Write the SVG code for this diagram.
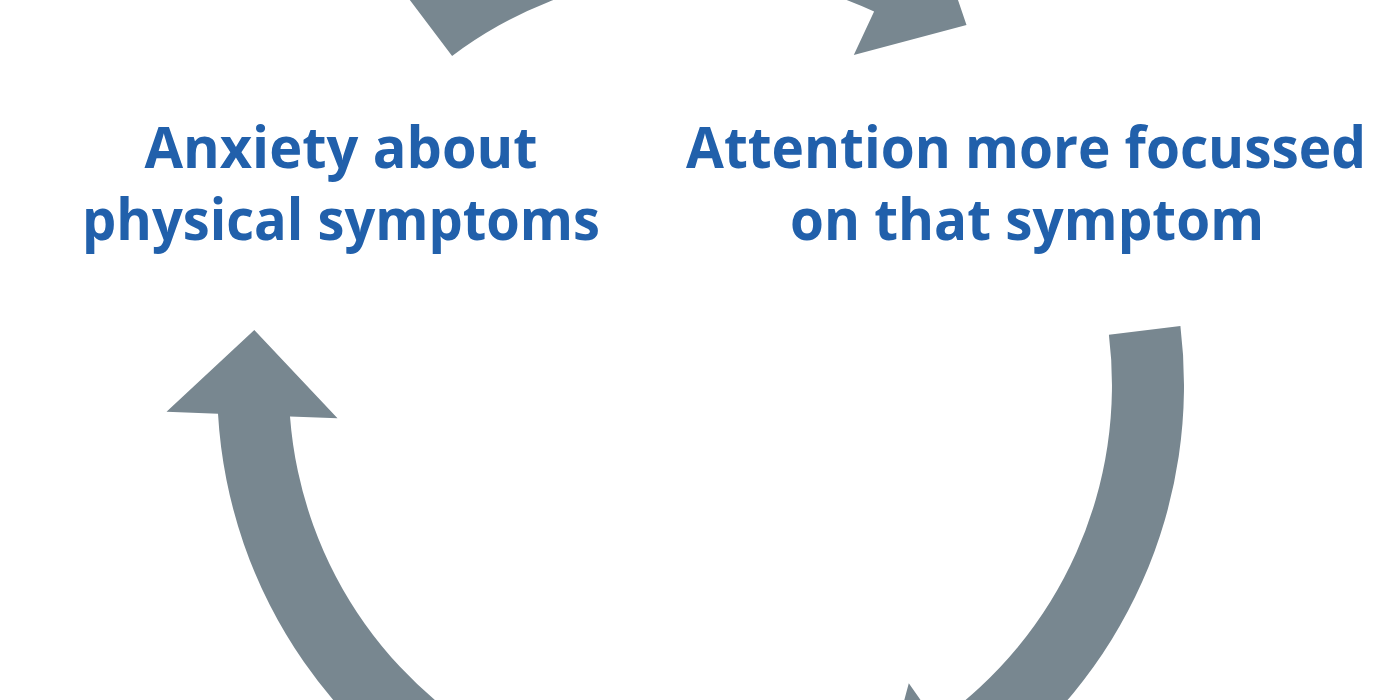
<svg xmlns="http://www.w3.org/2000/svg" width="1400" height="700" viewBox="0 0 1400 700">
  <style>
    .arc { fill: #788790; stroke: none; }
    .label { font-family: "Open Sans", "Noto Sans", "Liberation Sans", sans-serif; font-weight: 700; font-size: 58px; fill: #2160ab; text-anchor: middle; }
  </style>
  <rect x="0" y="0" width="1400" height="700" fill="#ffffff"/>
  <g id="connectors">
    <path id="arc-top" class="arc" d="M 408.7 -1.5 A 484 484 0 0 1 904.5 -53.7 L 924.8 -97.2 L 966.5 24.9 L 853.8 55.1 L 874.1 11.6 A 412 412 0 0 0 452.1 56.0 Z"/>
    <path id="arc-right" class="arc" d="M 1180.4 326.0 A 484 484 0 0 1 977.6 781.5 L 1005.2 820.8 L 878.6 795.9 L 908.8 683.2 L 936.3 722.5 A 412 412 0 0 0 1108.9 334.8 Z"/>
    <path id="arc-left" class="arc" d="M 535.7 762.8 A 412 412 0 0 1 290 416.4 L 337.5 418.3 L 254.3 330 L 166.5 411.8 L 218 413.8 A 484 484 0 0 0 507.0 828.9 Z"/>
  </g>
  <g id="node-anxiety">
    <text class="label" x="341" y="168" textLength="393" lengthAdjust="spacingAndGlyphs">Anxiety about</text>
    <text class="label" x="341" y="240" textLength="518" lengthAdjust="spacingAndGlyphs">physical symptoms</text>
  </g>
  <g id="node-attention">
    <text class="label" x="1026" y="168" textLength="680" lengthAdjust="spacingAndGlyphs">Attention more focussed</text>
    <text class="label" x="1027" y="240" textLength="474" lengthAdjust="spacingAndGlyphs">on that symptom</text>
  </g>
</svg>
